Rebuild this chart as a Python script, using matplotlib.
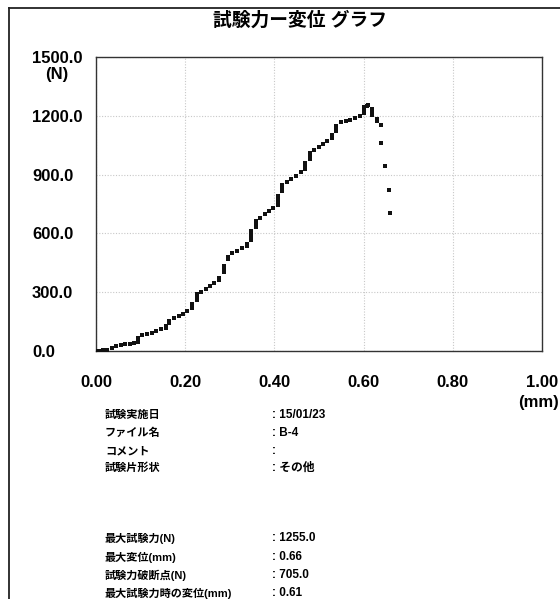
import matplotlib
matplotlib.use("Agg")
import matplotlib.pyplot as plt
from matplotlib.lines import Line2D

plt.rcParams['font.family'] = ['Liberation Sans', 'Noto Sans CJK JP', 'DejaVu Sans']

disp = [0.000, 0.007, 0.015, 0.025, 0.035, 0.045, 0.056, 0.066, 0.076, 0.086,
        0.095, 0.095, 0.095,
        0.104, 0.114, 0.125, 0.135, 0.145,
        0.156, 0.156, 0.156,
        0.164, 0.164, 0.175, 0.185, 0.195, 0.205,
        0.216, 0.216, 0.216,
        0.226, 0.226, 0.226,
        0.236, 0.246, 0.256, 0.265, 0.276, 0.276,
        0.286, 0.286, 0.286,
        0.296, 0.296, 0.306, 0.317, 0.327, 0.338, 0.338,
        0.347, 0.347, 0.347, 0.347,
        0.358, 0.358, 0.358,
        0.368, 0.378, 0.388, 0.397,
        0.408, 0.408, 0.408, 0.408,
        0.418, 0.418, 0.418,
        0.429, 0.438, 0.449, 0.459,
        0.469, 0.469, 0.469,
        0.479, 0.479, 0.479,
        0.489, 0.499, 0.509, 0.519,
        0.529, 0.529,
        0.539, 0.539, 0.539,
        0.549, 0.560, 0.570, 0.580, 0.591,
        0.600, 0.600, 0.600,
        0.608, 0.610,
        0.619, 0.619, 0.619,
        0.630, 0.630, 0.640,
        0.640, 0.649, 0.658, 0.660]
force = [2, 2, 4, 7, 13, 25, 30, 34, 36, 41,
         48, 58, 66,
         80, 86, 93, 101, 110,
         115, 122, 130,
         145, 155, 166, 177, 191, 204,
         218, 230, 240,
         262, 276, 290,
         300, 318, 334, 346, 363, 375,
         405, 420, 435,
         470, 482, 498, 512, 524, 537, 548,
         565, 580, 595, 610,
         635, 650, 665,
         681, 701, 715, 731,
         745, 760, 775, 790,
         815, 830, 845,
         862, 878, 892, 912,
         930, 945, 960,
         980, 995, 1010,
         1027, 1041, 1056, 1069,
         1085, 1100,
         1120, 1135, 1150,
         1167, 1174, 1179, 1187, 1201,
         1215, 1230, 1245,
         1252, 1255,
         1235, 1220, 1205,
         1185, 1172, 1154,
         1061, 943, 821, 705]

xticks = [0.0, 0.2, 0.4, 0.6, 0.8, 1.0]
xticklabels = ['0.00', '0.20', '0.40', '0.60', '0.80', '1.00']
yticks = [0, 300, 600, 900, 1200, 1500]
yticklabels = ['0.0', '300.0', '600.0', '900.0', '1200.0', '1500.0']

info_labels = ['試験実施日', 'ファイル名', 'コメント', '試験片形状',
               '最大試験力(N)', '最大変位(mm)', '試験力破断点(N)', '最大試験力時の変位(mm)']
info_values = [': 15/01/23', ': B-4', ':', ': その他',
               ': 1255.0', ': 0.66', ': 705.0', ': 0.61']
info_rows_px = [415, 433, 451, 468, 538, 557, 575, 593]

W, H = 560, 599
fig = plt.figure(figsize=(W / 100, H / 100), dpi=100)
fig.patch.set_facecolor('white')

def px(x, y):
    return x / W, 1 - y / H

# Rahmen um das Blatt (nur links und oben sichtbar)
fig.add_artist(Line2D([9 / W, 9 / W], [0, 1 - 8 / H], transform=fig.transFigure, color='#222222', lw=1.3))
fig.add_artist(Line2D([9 / W, 1], [1 - 8 / H, 1 - 8 / H], transform=fig.transFigure, color='#222222', lw=1.3))

ax = fig.add_axes([96 / W, 1 - 351 / H, (542 - 96) / W, (351 - 57) / H])
ax.scatter(disp, force, marker='s', s=5, color='#111111', linewidths=0, zorder=3)

ax.set_xlim(0, 1.0)
ax.set_ylim(0, 1500)
ax.set_xticks(xticks)
ax.set_xticklabels(xticklabels, fontsize=12, fontweight='bold')
ax.set_yticks(yticks)
ax.set_yticklabels(yticklabels, fontsize=12, fontweight='bold')
for lab in ax.get_yticklabels():
    lab.set_horizontalalignment('left')
ax.tick_params(axis='both', length=0)
ax.tick_params(axis='y', pad=46)
ax.tick_params(axis='x', pad=17)
ax.grid(True, color='#c8c8c8', linestyle=(0, (1, 1.5)), linewidth=0.8)
for sp in ax.spines.values():
    sp.set_color('#333333')
    sp.set_linewidth(1.0)

# Einheiten
fig.text(*px(57, 75), '(N)', ha='center', va='center', fontsize=12, fontweight='bold')
fig.text(*px(518, 402), '(mm)', ha='left', va='center', fontsize=12, fontweight='bold')

# Titel
fig.text(*px(300, 21), '試験力ー変位 グラフ', ha='center', va='center', fontsize=13.5, fontweight='bold')

# Infoblock unten
for lab, val, y in zip(info_labels, info_values, info_rows_px):
    fig.text(*px(105, y), lab, ha='left', va='center', fontsize=8, fontweight='bold')
    fig.text(*px(272, y), val, ha='left', va='center', fontsize=8.5, fontweight='bold')

fig.savefig('out.png', dpi=100)
